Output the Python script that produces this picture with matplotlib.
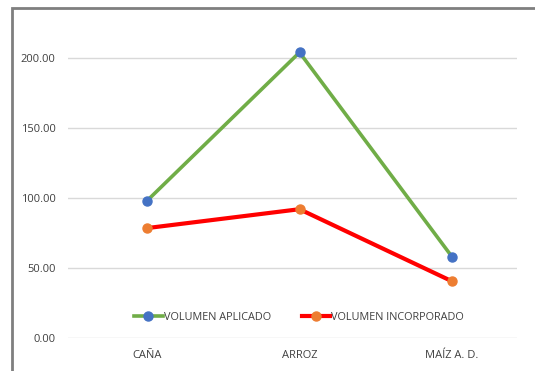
import matplotlib
matplotlib.use("Agg")
import matplotlib.pyplot as plt
from matplotlib.patches import Rectangle

categories = ["CAÑA", "ARROZ", "MAÍZ A. D."]
volumen_aplicado = [98.0, 204.0, 58.0]
volumen_incorporado = [78.5, 92.0, 40.5]
yticks = [0, 50, 100, 150, 200]
ytick_labels = ["0.00", "50.00", "100.00", "150.00", "200.00"]

plt.rcParams["font.family"] = ["Open Sans", "DejaVu Sans"]

fig = plt.figure(figsize=(5.35, 3.71), dpi=100)
W, H = 535, 371

# chart frame (extends past the right and bottom edges)
fig.patches.append(Rectangle((12 / W, -0.05), 1.1, (H - 8) / H + 0.05,
                             transform=fig.transFigure, fill=False,
                             edgecolor="#7f7f7f", linewidth=2.0))

ax = fig.add_axes([68 / W, (H - 338) / H, (517 - 68) / W, (338 - 16) / H])
x = list(range(len(categories)))

ax.plot(x, volumen_aplicado, color="#70ad47", linewidth=2.6,
        marker="o", markersize=6.5, markerfacecolor="#4472c4",
        markeredgecolor="#4472c4", label="VOLUMEN APLICADO", zorder=3)
ax.plot(x, volumen_incorporado, color="#ff0000", linewidth=3.0,
        marker="o", markersize=6.5, markerfacecolor="#ed7d31",
        markeredgecolor="#ed7d31", label="VOLUMEN INCORPORADO", zorder=3)

ax.set_xlim(-0.518, 2.426)
ax.set_ylim(0, 230)
ax.set_yticks(yticks)
ax.set_yticklabels(ytick_labels)
ax.set_xticks(x)
ax.set_xticklabels(categories)
ax.grid(axis="y", color="#d9d9d9", linewidth=1.0)
ax.set_axisbelow(True)
for s in ax.spines.values():
    s.set_visible(False)
ax.tick_params(axis="both", length=0, labelsize=8, labelcolor="#404040")
ax.tick_params(axis="y", pad=9)
ax.tick_params(axis="x", pad=9)

leg = ax.legend(loc="center", bbox_to_anchor=(0.515, 0.065), ncol=2,
                frameon=False, fontsize=7.8, handlelength=2.6,
                handletextpad=0.1, columnspacing=2.9)
for t in leg.get_texts():
    t.set_color("#404040")

fig.savefig("out.png", dpi=100)
